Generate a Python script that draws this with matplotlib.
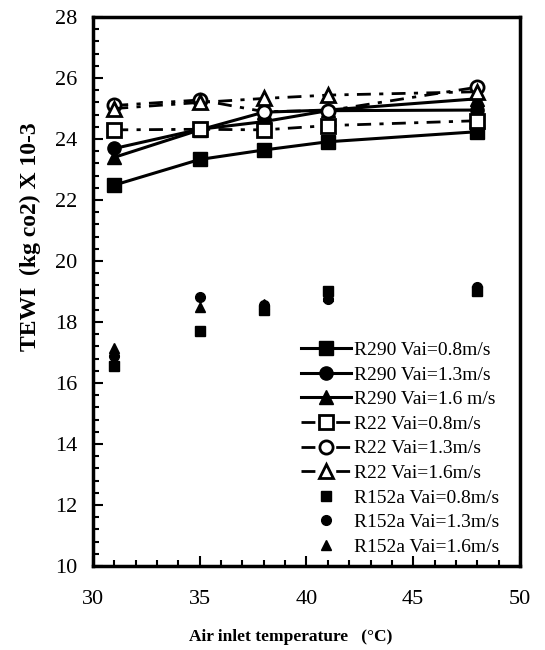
import matplotlib
matplotlib.use("Agg")
import matplotlib.pyplot as plt
from matplotlib.ticker import MultipleLocator

plt.rcParams['font.family'] = ['Liberation Serif', 'DejaVu Serif']

temps = [31, 35, 38, 41, 48]

r290_08 = [22.49, 23.33, 23.64, 23.91, 24.24]
r290_13 = [23.69, 24.32, 24.57, 24.93, 24.95]
r290_16 = [23.40, 24.30, 24.88, 24.95, 25.32]

r22_08 = [24.30, 24.32, 24.30, 24.44, 24.60]
r22_13 = [25.10, 25.28, 24.90, 24.93, 25.70]
r22_16 = [25.00, 25.20, 25.33, 25.44, 25.55]

r152a_08 = [16.57, 17.69, 18.40, 19.03, 19.03]
r152a_13 = [16.90, 18.83, 18.55, 18.76, 19.16]
r152a_16 = [17.15, 18.50, 18.60, 18.85, 19.05]

labels = ["R290 Vai=0.8m/s", "R290 Vai=1.3m/s", "R290 Vai=1.6 m/s",
          "R22 Vai=0.8m/s", "R22 Vai=1.3m/s", "R22 Vai=1.6m/s",
          "R152a Vai=0.8m/s", "R152a Vai=1.3m/s", "R152a Vai=1.6m/s"]

fig = plt.figure(figsize=(5.45, 6.5), dpi=100)
ax = fig.add_axes([0.1706, 0.1292, 0.7835, 0.8446])

solid = dict(color='black', linestyle='-', linewidth=2.2, markersize=9.5,
             markerfacecolor='black', markeredgecolor='black')
dashdot = dict(color='black', linestyle=(0, (5, 3, 1.5, 3)), linewidth=2.0,
               markersize=9.5, markerfacecolor='white', markeredgecolor='black',
               markeredgewidth=2.0)
pts = dict(color='black', linestyle='none', markersize=7,
           markerfacecolor='black', markeredgecolor='black')

ax.plot(temps, r290_08, marker='s', label=labels[0], **solid)
ax.plot(temps, r290_13, marker='o', label=labels[1], **solid)
ax.plot(temps, r290_16, marker='^', label=labels[2], **solid)
ax.plot(temps, r22_08, marker='s', label=labels[3], **dashdot)
ax.plot(temps, r22_13, marker='o', label=labels[4], **dashdot)
ax.plot(temps, r22_16, marker='^', label=labels[5], **dashdot)
ax.plot(temps, r152a_08, marker='s', label=labels[6], **pts)
ax.plot(temps, r152a_13, marker='o', label=labels[7], **pts)
ax.plot(temps, r152a_16, marker='^', label=labels[8], **pts)

ax.set_xlim(30, 50)
ax.set_ylim(10, 28)
ax.xaxis.set_major_locator(MultipleLocator(5))
ax.xaxis.set_minor_locator(MultipleLocator(1))
ax.yaxis.set_major_locator(MultipleLocator(2))
ax.yaxis.set_minor_locator(MultipleLocator(0.4))
ax.tick_params(which='both', direction='in', top=False, right=False,
               labelsize=16, width=1.5)
ax.tick_params(which='major', length=7)
ax.tick_params(which='minor', length=4)
ax.tick_params(axis='x', which='major', pad=17)
ax.tick_params(axis='y', which='major', pad=11)
for s in ax.spines.values():
    s.set_linewidth(2.5)

ax.set_xlabel("Air inlet temperature   (\u00b0C)", fontsize=12.5, fontweight='bold')
ax.xaxis.set_label_coords(0.464, -0.115)
ax.set_ylabel("TEWI  (kg co2) X 10-3", fontsize=17, fontweight='bold')
ax.yaxis.set_label_coords(-0.122, 0.6)

leg = ax.legend(loc='upper left', bbox_to_anchor=(0.455, 0.434), frameon=False,
                fontsize=14, handlelength=2.6, handletextpad=0.15,
                labelspacing=0.36, borderpad=0.2)

fig.savefig("out.png", dpi=100)
